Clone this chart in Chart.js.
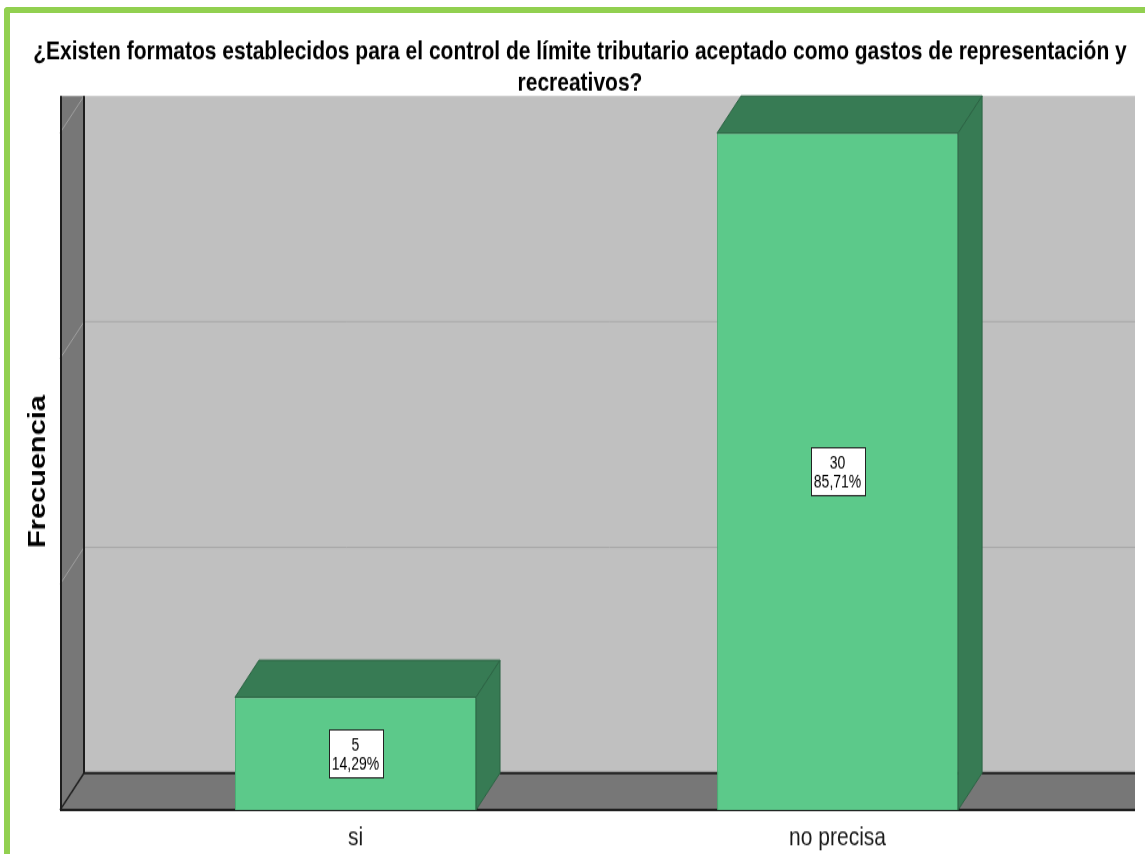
<!DOCTYPE html>
<html>
<head>
<meta charset="utf-8">
<script src="https://cdn.jsdelivr.net/npm/chart.js@4.4.1/dist/chart.umd.min.js"></script>
<style>
  html, body { margin: 0; padding: 0; background: #fff; overflow: hidden; }
  /* the reference is stretched vertically, so the canvas is too */
  #chart { position: absolute; left: 0; top: 0; transform: scaleY(1.2596); transform-origin: 0 0; }
  #frame { position: absolute; left: 4px; top: 7px; width: 1200px; height: 900px; box-sizing: border-box;
           border-top: 6px solid #92D050; border-left: 6px solid #92D050; border-top-left-radius: 4px; }
</style>
</head>
<body>
<canvas id="chart" width="1145" height="678"></canvas>
<div id="frame"></div>
<script>
const titleLines = [
    '¿Existen formatos establecidos para el control de límite tributario aceptado como gastos de representación y',
    'recreativos?'
];
const categories = ['si', 'no precisa'];
const frequencies = [5, 30];
const percentLabels = ['14,29%', '85,71%'];
const yAxisTitle = 'Frecuencia';

const FONT = "'Liberation Sans', Arial, sans-serif";
const DEPTH_X = 24;      // 3D depth offset
const DEPTH_Y = -29.4;

// walls, floor and 3D faces of the bars
const box3d = {
    id: 'box3d',
    beforeDatasetsDraw(chart) {
        const { ctx, chartArea: a, scales: { y } } = chart;
        const bx = a.left + DEPTH_X;
        const top = a.top + DEPTH_Y;
        const backBottom = a.bottom + DEPTH_Y;
        ctx.save();

        // back wall
        ctx.fillStyle = '#C0C0C0';
        ctx.fillRect(bx, top, a.right - bx, backBottom - top);

        // grid lines on the back wall
        ctx.strokeStyle = '#A8A8A8';
        ctx.lineWidth = 1;
        y.ticks.forEach(t => {
            if (t.value <= 0 || t.value >= y.max) return;
            const py = y.getPixelForValue(t.value) + DEPTH_Y;
            ctx.beginPath();
            ctx.moveTo(bx, py);
            ctx.lineTo(a.right, py);
            ctx.stroke();
        });

        // left wall
        ctx.fillStyle = '#777777';
        ctx.beginPath();
        ctx.moveTo(a.left, top);
        ctx.lineTo(bx, top);
        ctx.lineTo(bx, backBottom);
        ctx.lineTo(a.left, a.bottom);
        ctx.closePath();
        ctx.fill();

        // floor
        ctx.beginPath();
        ctx.moveTo(a.left, a.bottom);
        ctx.lineTo(bx, backBottom);
        ctx.lineTo(a.right, backBottom);
        ctx.lineTo(a.right, a.bottom);
        ctx.closePath();
        ctx.fill();

        // tick marks on the left wall
        ctx.strokeStyle = '#A0A0A0';
        ctx.lineWidth = 1;
        y.ticks.forEach(t => {
            if (t.value <= 0) return;
            const py = y.getPixelForValue(t.value);
            ctx.beginPath();
            ctx.moveTo(bx, py + DEPTH_Y);
            ctx.lineTo(a.left, py);
            ctx.stroke();
        });

        // dark edges
        ctx.strokeStyle = '#1E1E1E';
        ctx.lineWidth = 2;
        ctx.beginPath();
        ctx.moveTo(a.left + 1, top);
        ctx.lineTo(a.left + 1, a.bottom);
        ctx.lineTo(a.right, a.bottom);
        ctx.moveTo(bx, top);
        ctx.lineTo(bx, backBottom);
        ctx.lineTo(a.right, backBottom);
        ctx.stroke();
        ctx.lineWidth = 1.5;
        ctx.beginPath();
        ctx.moveTo(a.left, a.bottom);
        ctx.lineTo(bx, backBottom);
        ctx.stroke();
        ctx.restore();
    },
    afterDatasetsDraw(chart) {
        const { ctx } = chart;
        const meta = chart.getDatasetMeta(0);
        ctx.save();
        meta.data.forEach((bar, i) => {
            const { x, y, base, width } = bar.getProps(['x', 'y', 'base', 'width'], true);
            const l = x - width / 2, r = x + width / 2;

            ctx.fillStyle = '#377B54';
            ctx.strokeStyle = '#2C6444';
            ctx.lineWidth = 1;
            // top face
            ctx.beginPath();
            ctx.moveTo(l, y);
            ctx.lineTo(l + DEPTH_X, y + DEPTH_Y);
            ctx.lineTo(r + DEPTH_X, y + DEPTH_Y);
            ctx.lineTo(r, y);
            ctx.closePath();
            ctx.fill();
            ctx.stroke();
            // side face
            ctx.beginPath();
            ctx.moveTo(r, y);
            ctx.lineTo(r + DEPTH_X, y + DEPTH_Y);
            ctx.lineTo(r + DEPTH_X, base + DEPTH_Y);
            ctx.lineTo(r, base);
            ctx.closePath();
            ctx.fill();
            ctx.stroke();

            // value label box
            const lines = [String(frequencies[i]), percentLabels[i]];
            ctx.font = '14px ' + FONT;
            const tw = Math.max(...lines.map(s => ctx.measureText(s).width));
            const bw = Math.round(tw + 7), bh = 38;
            const cy = (y + base) / 2;
            const bxl = Math.round(x - bw / 2) + 0.5, byt = Math.round(cy - bh / 2) + 0.5;
            ctx.fillStyle = '#FFFFFF';
            ctx.fillRect(bxl, byt, bw, bh);
            ctx.strokeStyle = '#222222';
            ctx.strokeRect(bxl, byt, bw, bh);
            ctx.fillStyle = '#000000';
            ctx.textAlign = 'center';
            ctx.textBaseline = 'middle';
            ctx.fillText(lines[0], x, cy - 6);
            ctx.fillText(lines[1], x, cy + 8.5);
        });
        ctx.restore();
    }
};

const ctx = document.getElementById('chart').getContext('2d');
new Chart(ctx, {
    type: 'bar',
    data: {
        datasets: [{
            label: yAxisTitle,
            data: categories.map((c, i) => ({ x: i, y: frequencies[i] })),
            backgroundColor: '#5CC98A',
            borderColor: '#4AAE74',
            borderWidth: 1,
            categoryPercentage: 1,
            barPercentage: 0.5
        }]
    },
    options: {
        responsive: false,
        animation: false,
        layout: { padding: { left: 25, right: 10, top: 0, bottom: 0 } },
        plugins: {
            legend: { display: false },
            tooltip: { enabled: false },
            title: {
                display: true,
                text: titleLines,
                color: '#000',
                font: { family: FONT, size: 21, weight: 'bold', lineHeight: 1.15 },
                padding: { top: 29.5, bottom: 27.8 }
            }
        },
        scales: {
            x: {
                type: 'linear',
                offset: false,
                min: -0.613,
                max: 1.617,
                grid: { display: false, drawTicks: false, offset: false },
                border: { display: false },
                ticks: {
                    stepSize: 1,
                    includeBounds: false,
                    autoSkip: false,
                    maxRotation: 0,
                    padding: 10,
                    color: '#1A1A1A',
                    font: { family: FONT, size: 21 },
                    callback: v => categories[v] ?? ''
                },
                afterFit: s => { s.height = 34.9; }
            },
            y: {
                min: 0,
                max: 30,
                grid: { display: false },
                border: { display: false },
                ticks: { display: false, stepSize: 10 },
                title: {
                    display: true,
                    text: yAxisTitle,
                    color: '#000',
                    font: { family: FONT, size: 23, weight: 'bold' },
                    padding: { top: 0, bottom: 0 }
                },
                afterFit: s => { s.width = 35; }
            }
        }
    },
    plugins: [box3d]
});
</script>
</body>
</html>
